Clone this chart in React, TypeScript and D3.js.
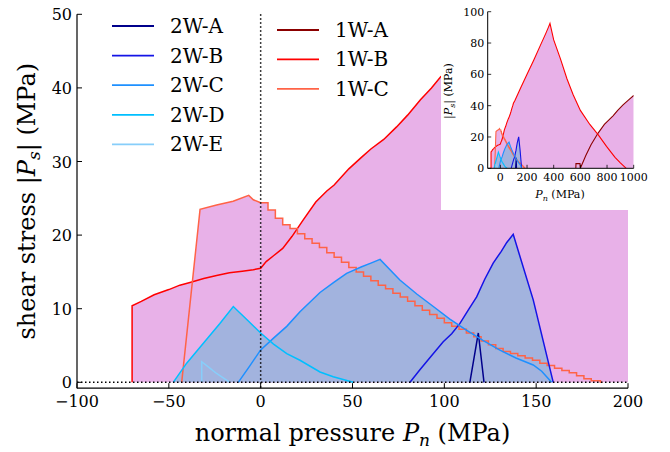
import React from "react";
import * as d3 from "d3";

type P = [number, number];

// ---- series names & colours ----
const names2W = ["2W-A", "2W-B", "2W-C", "2W-D", "2W-E"];
const colors2W = ["#00008b", "#1414e6", "#1e90ff", "#00bfff", "#87cefa"];
const names1W = ["1W-A", "1W-B", "1W-C"];
const colors1W = ["#8b0000", "#ff0000", "#ff6347"];

// ---- data (normal pressure MPa, |shear stress| MPa) ----
const w2A: P[] = [[113.9, 0], [118.5, 6.7], [121.6, 0]];
const w2B: P[] = [[81.3, 0], [86.7, 1.7], [92, 3.3], [99.4, 5.5], [104, 6.6], [108.5, 8], [113, 9.8], [117.6, 11.6], [122, 14], [126.6, 16.2], [131, 17.8], [134, 19], [137.5, 20.1], [148.4, 11.2], [159.3, 0]];
const w2C: P[] = [[-12.2, 0], [-6, 2.2], [0, 4.4], [7, 6], [14.2, 7.6], [21.4, 9.6], [32.3, 12.2], [40, 13.6], [46.8, 14.8], [55, 15.7], [60, 16.2], [65, 16.7], [75.8, 13.9], [85, 12], [94, 10.3], [103, 8.6], [112, 7.1], [121, 5.7], [130, 4.4], [139, 3.3], [148.4, 2.35], [153, 1.5], [158.4, 0]];
const w2D: P[] = [[-47.6, 0], [-40.3, 2.6], [-31.2, 5.3], [-22.2, 8], [-14.9, 10.3], [-7, 8.4], [0, 6.7], [7, 5.2], [14.2, 3.9], [21.4, 3.0], [32.3, 1.4], [39.5, 0.76], [50.4, 0]];
const w2E: P[] = [[-32.1, 0], [-32.1, 2.8], [-28, 2], [-24, 1.2], [-20, 0.55], [-16.7, 0]];

const w1A: P[] = [[566, 0], [567, 3], [597, 3], [600, 0], [640, 8], [680, 15], [733, 22.5], [780, 28], [845, 33.5], [880, 37], [920, 40.5], [960, 43.5], [1000, 46.5]];
const w1B: P[] = [[-70, 0], [-70, 10.4], [-65, 11], [-58, 11.9], [-50, 12.6], [-44, 13.2], [-38, 13.6], [-31, 14.1], [-24, 14.5], [-17, 14.9], [-10, 15.1], [-4, 15.3], [0, 15.5], [3, 16.4], [7, 17.2], [12, 18.2], [17, 19.8], [23, 22], [30, 24.5], [36, 26], [40, 26.8], [48, 29], [55, 30.6], [60, 31.7], [67, 33], [74, 34.7], [80, 36.3], [87, 38.4], [93, 40], [98, 41.5], [110, 43.5], [150, 51], [200, 60], [250, 69], [300, 78.5], [340, 86], [360, 90], [372, 92.5], [400, 82], [450, 70], [500, 57], [546, 47], [600, 37], [671, 28], [733, 21.5], [796, 14], [860, 7], [900, 3.5], [940, 0.3], [945, 0]];
const w1CRise: P[] = [[-43, 0], [-33, 23.5], [-24, 24.1], [-15, 24.6], [-6.5, 25.4], [-4, 24.8], [0, 24.4]];
const w1CSteps: P[] = [[0, 24.4], [4, 23.4], [8, 22.3], [12, 21.4], [16, 20.9], [20, 20.2], [24, 19.5], [28, 18.9], [32, 18.3], [36, 17.6], [40, 17.0], [44, 16.3], [48, 15.6], [52, 15.0], [56, 14.4], [60, 13.8], [64, 13.2], [68, 12.7], [72, 12.1], [76, 11.6], [80, 11.0], [84, 10.4], [88, 9.8], [92, 9.2], [96, 8.7], [100, 8.1], [104, 7.6], [108, 7.2], [112, 6.7], [116, 6.2], [120, 5.6], [124, 5.1], [128, 4.6], [132, 4.2], [136, 3.9], [140, 3.6], [144, 3.3], [148, 3.0], [152, 2.6], [156, 2.3], [160, 1.9], [164, 1.6], [168, 1.3], [172, 0.9], [176, 0.5], [180, 0.2], [185, 0], [186, 0]];

const data2W = [w2A, w2B, w2C, w2D, w2E];

// ---- ticks ----
const xTicksMain = [-100, -50, 0, 50, 100, 150, 200];
const yTicksMain = [0, 10, 20, 30, 40, 50];
const xTicksInset = [0, 200, 400, 600, 800, 1000];
const yTicksInset = [0, 20, 40, 60, 80, 100];

const FONT = "'DejaVu Serif', serif";
const PINK = "#e8b1e8";
const BLUE = "#a2b3de";

function fmt(v: number) {
  return v < 0 ? "\u2212" + Math.abs(v) : String(v);
}

function Curves({ x, y, clipId, lw }: { x: any; y: any; clipId: string; lw: number }) {
  const line = d3.line<P>().x(d => x(d[0])).y(d => y(d[1]));
  const stepLine = d3.line<P>().x(d => x(d[0])).y(d => y(d[1])).curve(d3.curveStepAfter);
  const area = d3.area<P>().x(d => x(d[0])).y0(y(0)).y1(d => y(d[1]));
  const stepArea = d3.area<P>().x(d => x(d[0])).y0(y(0)).y1(d => y(d[1])).curve(d3.curveStepAfter);
  return (
    <g clipPath={`url(#${clipId})`}>
      <path d={area(w1A)!} fill={PINK} />
      <path d={area(w1B)!} fill={PINK} />
      <path d={area(w1CRise)!} fill={PINK} />
      <path d={stepArea(w1CSteps)!} fill={PINK} />
      {data2W.map((d, i) => (
        <path key={"a" + i} d={area(d)!} fill={BLUE} />
      ))}
      <path d={line(w1A)!} fill="none" stroke={colors1W[0]} strokeWidth={lw} />
      <path d={line(w1B)!} fill="none" stroke={colors1W[1]} strokeWidth={lw} />
      <path d={line(w1CRise)! + stepLine(w1CSteps)!} fill="none" stroke={colors1W[2]} strokeWidth={lw} />
      {data2W.map((d, i) => (
        <path key={"l" + i} d={line(d)!} fill="none" stroke={colors2W[i]} strokeWidth={lw} />
      ))}
    </g>
  );
}

export default function App() {
  // main axes
  const x = d3.scaleLinear().domain([-100, 200]).range([77, 628]);
  const y = d3.scaleLinear().domain([-0.8, 50]).range([388.2, 14.3]);
  // inset axes
  const xi = d3.scaleLinear().domain([-95, 1000]).range([487.7, 633.7]);
  const yi = d3.scaleLinear().domain([0, 100]).range([168.3, 11.7]);

  const mL = x(-100), mR = x(200), mT = y(50), mB = y(-0.8);
  const iL = xi(-95), iR = xi(1000), iT = yi(100), iB = yi(0);

  return (
    <svg width={670} height={452} style={{ position: "absolute", left: 0, top: 0, background: "#fff" }} fontFamily={FONT}>
      <defs>
        <clipPath id="clipMain">
          <rect x={mL} y={mT} width={mR - mL} height={mB - mT} />
        </clipPath>
        <clipPath id="clipInset">
          <rect x={iL} y={iT} width={iR - iL} height={iB - iT} />
        </clipPath>
      </defs>
      <rect x={0} y={0} width={670} height={452} fill="#fff" />

      {/* main plot */}
      <Curves x={x} y={y} clipId="clipMain" lw={1.5} />
      <line x1={mL} x2={mR} y1={y(0)} y2={y(0)} stroke="#000" strokeWidth={1.5} strokeDasharray="1.5,2.5" />
      <line x1={x(0)} x2={x(0)} y1={mT} y2={mB} stroke="#000" strokeWidth={1.5} strokeDasharray="1.5,2.5" />

      {/* main spines */}
      <line x1={mL} x2={mL} y1={mT} y2={mB} stroke="#000" strokeWidth={1.2} />
      <line x1={mL} x2={mR} y1={mB} y2={mB} stroke="#000" strokeWidth={1.2} />
      {xTicksMain.map(t => (
        <g key={"xt" + t}>
          <line x1={x(t)} x2={x(t)} y1={mB} y2={mB - 5} stroke="#000" strokeWidth={1} />
          <text x={x(t)} y={407} fontSize={16} textAnchor="middle">{fmt(t)}</text>
        </g>
      ))}
      {yTicksMain.map(t => (
        <g key={"yt" + t}>
          <line x1={mL} x2={mL + 5} y1={y(t)} y2={y(t)} stroke="#000" strokeWidth={1} />
          <text x={mL - 5} y={y(t) + 6} fontSize={16} textAnchor="end">{fmt(t)}</text>
        </g>
      ))}

      {/* axis labels */}
      <text x={(mL + mR) / 2 + 0} y={441} fontSize={24} textAnchor="middle">
        normal pressure <tspan fontStyle="italic">P</tspan>
        <tspan fontStyle="italic" fontSize={17} dy={5}>n</tspan>
        <tspan dy={-5}> (MPa)</tspan>
      </text>
      <text transform={`translate(35,${(mT + mB) / 2}) rotate(-90)`} fontSize={24} textAnchor="middle">
        shear stress |<tspan fontStyle="italic">P</tspan>
        <tspan fontStyle="italic" fontSize={17} dy={5}>s</tspan>
        <tspan dy={-5}>| (MPa)</tspan>
      </text>

      {/* legend */}
      {names2W.map((n, i) => (
        <g key={n}>
          <line x1={112} x2={154} y1={26 + i * 29.6} y2={26 + i * 29.6} stroke={colors2W[i]} strokeWidth={1.8} />
          <text x={170} y={26 + i * 29.6 + 7} fontSize={20}>{n}</text>
        </g>
      ))}
      {names1W.map((n, i) => (
        <g key={n}>
          <line x1={277} x2={319} y1={30 + i * 29.4} y2={30 + i * 29.4} stroke={colors1W[i]} strokeWidth={1.8} />
          <text x={335} y={30 + i * 29.4 + 7} fontSize={20}>{n}</text>
        </g>
      ))}

      {/* inset */}
      <rect x={441} y={0} width={229} height={210} fill="#fff" />
      <Curves x={xi} y={yi} clipId="clipInset" lw={1.1} />
      <line x1={iL} x2={iL} y1={iT} y2={iB} stroke="#000" strokeWidth={1} />
      <line x1={iL} x2={iR} y1={iB} y2={iB} stroke="#000" strokeWidth={1} />
      {xTicksInset.map(t => (
        <g key={"ixt" + t}>
          <line x1={xi(t)} x2={xi(t)} y1={iB} y2={iB - 3.5} stroke="#000" strokeWidth={0.8} />
          <text x={xi(t)} y={180.5} fontSize={11} textAnchor="middle">{fmt(t)}</text>
        </g>
      ))}
      {yTicksInset.map(t => (
        <g key={"iyt" + t}>
          <line x1={iL} x2={iL + 3.5} y1={yi(t)} y2={yi(t)} stroke="#000" strokeWidth={0.8} />
          <text x={iL - 3.5} y={yi(t) + 4} fontSize={11} textAnchor="end">{fmt(t)}</text>
        </g>
      ))}
      <text x={560} y={198} fontSize={11} textAnchor="middle">
        <tspan fontStyle="italic">P</tspan>
        <tspan fontStyle="italic" fontSize={8} dy={2.5}>n</tspan>
        <tspan dy={-2.5}> (MPa)</tspan>
      </text>
      <text transform={`translate(452,91) rotate(-90)`} fontSize={11} textAnchor="middle">
        |<tspan fontStyle="italic">P</tspan>
        <tspan fontStyle="italic" fontSize={8} dy={2.5}>s</tspan>
        <tspan dy={-2.5}>| (MPa)</tspan>
      </text>
    </svg>
  );
}
